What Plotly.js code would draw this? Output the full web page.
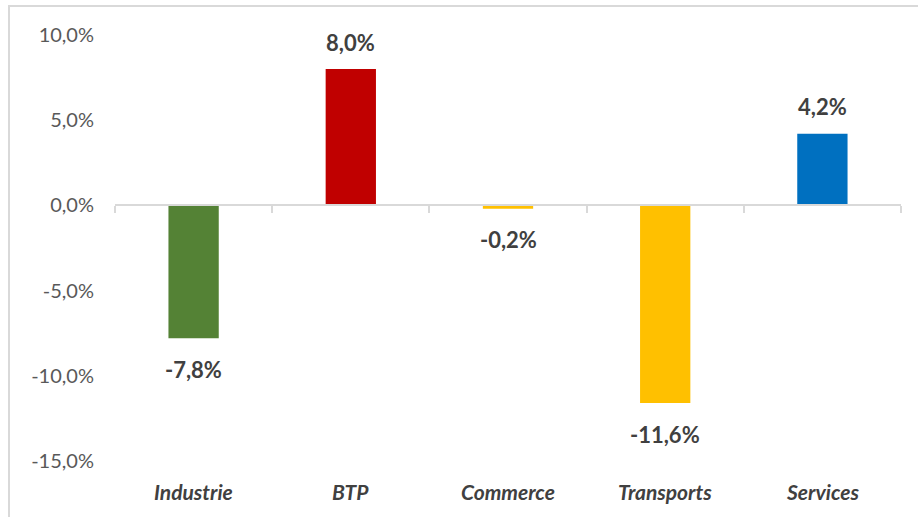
<!DOCTYPE html>
<html>
<head>
<meta charset="utf-8">
<script src="https://cdn.plot.ly/plotly-3.0.1.min.js"></script>
<style>
    html, body { margin: 0; padding: 0; background: #fff; overflow: hidden; }
    #wrap { position: relative; width: 918px; height: 517px; }
    #plot { width: 918px; height: 517px; }
    #frame {
        position: absolute; left: 8px; top: 5px; width: 930px; height: 530px;
        border-left: 2px solid #d9d9d9; border-top: 2px solid #d9d9d9;
        pointer-events: none;
    }
</style>
</head>
<body>
<div id="wrap">
    <div id="plot"></div>
    <div id="frame"></div>
</div>
<script>
document.addEventListener('DOMContentLoaded', function () {
    // Sectors and their change (%)
    var sectors = ['Industrie', 'BTP', 'Commerce', 'Transports', 'Services'];
    var changes = [-7.8, 8.0, -0.2, -11.6, 4.2];
    var colors = ['#548235', '#C00000', '#FFC000', '#FFC000', '#0070C0'];
    // Y axis ticks
    var yTicks = [-15, -10, -5, 0, 5, 10];

    // French style: comma decimal, plain hyphen for minus
    function fmt(v) {
        return v.toFixed(1).replace('.', ',') + '%';
    }

    var trace = [{
        type: 'bar',
        x: sectors,
        y: changes,
        marker: { color: colors },
        hoverinfo: 'none'
    }];

    // Value labels above / below each bar
    var annotations = sectors.map(function (s, i) {
        var v = changes[i];
        return {
            x: s, y: v, xref: 'x', yref: 'y',
            text: '<b>' + fmt(v) + '</b>',
            showarrow: false,
            yshift: v >= 0 ? 27 : -31,
            font: { family: 'Lato, "Open Sans", sans-serif', size: 22, color: '#404040' }
        };
    });
    // Category labels at the bottom of the plot
    sectors.forEach(function (s) {
        annotations.push({
            x: s, y: 0, xref: 'x', yref: 'paper',
            text: '<b><i>' + s + '</i></b>',
            showarrow: false,
            yshift: -30,
            yanchor: 'middle',
            font: { family: 'Lato, "Open Sans", sans-serif', size: 21, color: '#404040' }
        });
    });

    var layout = {
        width: 918,
        height: 517,
        margin: { l: 115, r: 17, t: 35, b: 56 },
        paper_bgcolor: '#fff',
        plot_bgcolor: '#fff',
        showlegend: false,
        bargap: 0.68,
        font: { family: 'Lato, "Open Sans", sans-serif', color: '#595959' },
        xaxis: {
            type: 'category',
            anchor: 'free',
            position: 0.6,
            showline: true,
            linecolor: '#d9d9d9',
            linewidth: 2,
            ticks: 'outside',
            tickson: 'boundaries',
            tickcolor: '#d9d9d9',
            tickwidth: 2,
            ticklen: 7,
            showticklabels: false,
            showgrid: false,
            zeroline: false
        },
        yaxis: {
            range: [-15, 10],
            tickmode: 'array',
            tickvals: yTicks,
            ticktext: yTicks.map(fmt),
            showgrid: false,
            zeroline: false,
            showline: false,
            ticklabelstandoff: 20,
            tickfont: { size: 20, color: '#595959' }
        },
        annotations: annotations
    };

    var plotElement = document.getElementById('plot');
    if (plotElement) {
        Plotly.newPlot('plot', trace, layout, { staticPlot: true });
    } else {
        console.error("No DOM element with id 'plot' exists on the page.");
    }
});
</script>
</body>
</html>
